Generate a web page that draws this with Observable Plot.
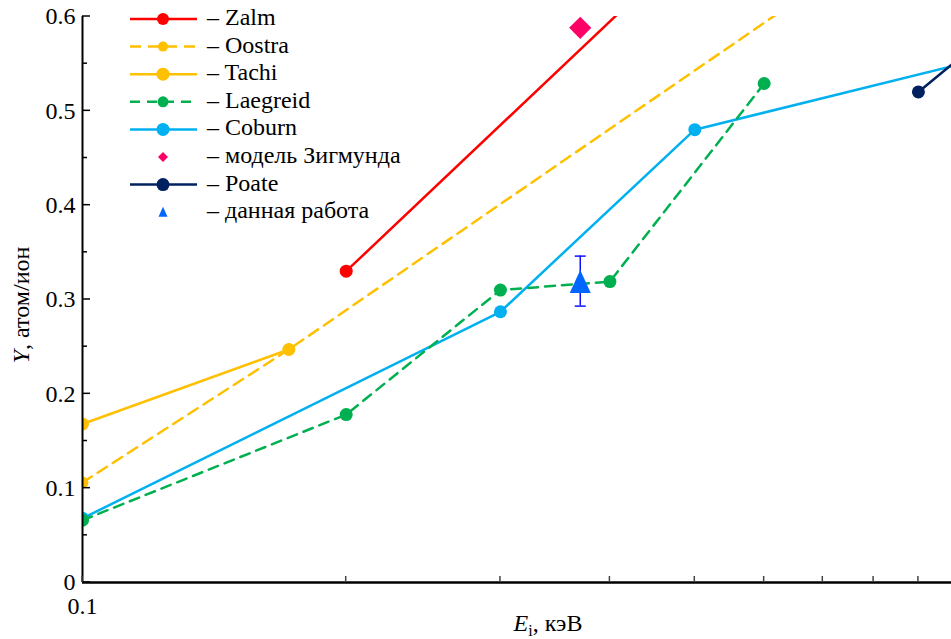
<!DOCTYPE html>
<html><head><meta charset="utf-8">
<script src="https://cdn.jsdelivr.net/npm/d3@7"></script>
<script src="https://cdn.jsdelivr.net/npm/@observablehq/plot@0.6"></script>
<style>
html,body{margin:0;padding:0;background:#fff;}
#chart{width:951px;height:639px;overflow:hidden;position:relative;}
</style></head><body><div id="chart"></div>
<script>
// ---- data (E in keV, Y in atoms/ion) ----
const zalmE = [0.2, 0.5];            const zalmY = [0.33, 0.68];
const oostraE = [0.1, 0.172, 0.7];   const oostraY = [0.106, 0.247, 0.636];
const tachiE = [0.1, 0.172];         const tachiY = [0.168, 0.247];
const laegreidE = [0.1, 0.2, 0.3, 0.4, 0.6]; const laegreidY = [0.066, 0.178, 0.31, 0.319, 0.529];
const coburnE = [0.1, 0.3, 0.5, 1.0]; const coburnY = [0.068, 0.287, 0.48, 0.549];
const poateE = [0.9, 1.0];           const poateY = [0.52, 0.555];
const zigmundE = [0.37];             const zigmundY = [0.588];
const workE = [0.37]; const workY = [0.319]; const workLo = [0.293]; const workHi = [0.346];

const yTicks = [0, 0.1, 0.2, 0.3, 0.4, 0.5, 0.6];
const yMinor = [0.05, 0.15, 0.25, 0.35, 0.45, 0.55];
const xTicks = [0.1, 1];
const xMinor = [0.2, 0.3, 0.4, 0.5, 0.6, 0.7, 0.8, 0.9];

const legendLabels = ["Zalm", "Oostra", "Tachi", "Laegreid", "Coburn", "модель Зигмунда", "Poate", "данная работа"];

const FONT = "Liberation Serif";
const C = {zalm:"#ff0000", orange:"#ffc000", green:"#00b050", blue:"#00b0f0", navy:"#002060", pink:"#ff0066", work:"#0066ff", err:"#1010ff"};

const pts = (E, Y) => E.map((e, i) => ({E: e, Y: Y[i]}));
const zalm = pts(zalmE, zalmY), oostra = pts(oostraE, oostraY), tachi = pts(tachiE, tachiY),
      laegreid = pts(laegreidE, laegreidY), coburn = pts(coburnE, coburnY), poate = pts(poateE, poateY),
      zigmund = pts(zigmundE, zigmundY);
const work = workE.map((e, i) => ({E: e, Y: workY[i], lo: workLo[i], hi: workHi[i]}));

const triSym = (w, h) => ({draw(ctx){ ctx.moveTo(0, -h/2); ctx.lineTo(w/2, h/2); ctx.lineTo(-w/2, h/2); ctx.closePath(); }});
const capSym = {draw(ctx){ ctx.moveTo(-5.5, 0); ctx.lineTo(5.5, 0); }};

const lw = 2.5;
const line = (d, stroke, dash) => Plot.line(d, {x:"E", y:"Y", stroke, strokeWidth: lw, strokeDasharray: dash, clip: true});
const dots = (d, fill, r) => Plot.dot(d, {x:"E", y:"Y", fill, r, clip: true});

const chart = Plot.plot({
  width: 951, height: 639,
  marginLeft: 82, marginRight: -7, marginTop: 16, marginBottom: 57,
  x: {type: "log", domain: [0.1, 1]},
  y: {domain: [0, 0.6]},
  marks: [
    Plot.axisX(xTicks, {tickSize: 0, tickPadding: 14, tickFormat: d => String(d), label: null}),
    Plot.axisY(yTicks, {tickSize: 0, tickPadding: 7, tickFormat: d => d === 0 ? "0" : d.toFixed(1), label: null}),
    line(oostra, C.orange, "11,7"), dots(oostra, C.orange, 6),
    line(tachi, C.orange), dots(tachi, C.orange, 6.5),
    line(coburn, C.blue), dots(coburn, C.blue, 6.5),
    line(laegreid, C.green, "10,7"), dots(laegreid, C.green, 6.5),
    line(zalm, C.zalm), dots(zalm, C.zalm, 6.5),
    line(poate, C.navy), dots(poate, C.navy, 6.5),
    Plot.dot(zigmund, {x:"E", y:"Y", symbol:"diamond2", r: 10, fill: C.pink, stroke: "none"}),
    Plot.ruleX(work, {x:"E", y1:"lo", y2:"hi", stroke: C.err, strokeWidth: 1.5}),
    Plot.dot(work, {x:"E", y:"lo", symbol: capSym, stroke: C.err, strokeWidth: 1.5, fill: "none"}),
    Plot.dot(work, {x:"E", y:"hi", symbol: capSym, stroke: C.err, strokeWidth: 1.5, fill: "none"}),
    Plot.dot(work, {x:"E", y:"Y", symbol: triSym(21, 23), fill: C.work, stroke: "none"}),
    Plot.ruleX([0.1], {stroke: "black", strokeWidth: 2}),
    Plot.ruleY([0], {stroke: "black", strokeWidth: 2.5})
  ]
});
document.getElementById("chart").appendChild(chart);

const svg = d3.select(chart);
const sx = chart.scale("x"), sy = chart.scale("y");
const x0 = sx.apply(0.1), y0 = sy.apply(0);
const g = svg.append("g");
yTicks.forEach(v => g.append("line").attr("x1", x0).attr("x2", x0 + 8).attr("y1", sy.apply(v)).attr("y2", sy.apply(v)).attr("stroke", "black").attr("stroke-width", 1.5));
yMinor.forEach(v => g.append("line").attr("x1", x0).attr("x2", x0 + 5).attr("y1", sy.apply(v)).attr("y2", sy.apply(v)).attr("stroke", "black").attr("stroke-width", 1.5));
xMinor.concat(xTicks).forEach(v => g.append("line").attr("x1", sx.apply(v)).attr("x2", sx.apply(v)).attr("y1", y0).attr("y2", y0 - 6).attr("stroke", "#444").attr("stroke-width", 1.5));

const xt = svg.append("text").attr("x", 548).attr("y", 631).attr("text-anchor", "middle").attr("font-size", 24);
xt.append("tspan").attr("font-style", "italic").text("E");
xt.append("tspan").attr("font-size", 16).attr("dy", 5).text("i");
xt.append("tspan").attr("dy", -5).text(", кэВ");
const yt = svg.append("text").attr("transform", "translate(29,305) rotate(-90)").attr("text-anchor", "middle").attr("font-size", 24);
yt.append("tspan").attr("font-style", "italic").text("Y");
yt.append("tspan").text(", атом/ион");

const legendStyle = [
  {stroke: C.zalm, marker: "circle", fill: C.zalm, r: 6},
  {stroke: C.orange, dash: "11,7", marker: "circle", fill: C.orange, r: 5},
  {stroke: C.orange, marker: "circle", fill: C.orange, r: 6.5},
  {stroke: C.green, dash: "10,7", marker: "circle", fill: C.green, r: 5.5},
  {stroke: C.blue, marker: "circle", fill: C.blue, r: 6.5},
  {marker: "diamond", fill: C.pink, r: 5},
  {stroke: C.navy, marker: "circle", fill: C.navy, r: 6.5},
  {marker: "triangle", fill: C.work, r: 9}
];
const lg = svg.append("g");
legendLabels.forEach((lab, i) => {
  const y = 19 + i * 27.6, s = legendStyle[i];
  if (s.stroke) lg.append("line").attr("x1", 130).attr("x2", 197).attr("y1", y).attr("y2", y)
      .attr("stroke", s.stroke).attr("stroke-width", lw).attr("stroke-dasharray", s.dash || null);
  if (s.marker === "circle") lg.append("circle").attr("cx", 163).attr("cy", y).attr("r", s.r).attr("fill", s.fill);
  else if (s.marker === "diamond") lg.append("path").attr("d", `M163,${y - s.r}L${163 + s.r},${y}L163,${y + s.r}L${163 - s.r},${y}Z`).attr("fill", s.fill);
  else lg.append("path").attr("d", `M163,${y - s.r / 2 - 1}L${163 + s.r / 2},${y + s.r / 2}L${163 - s.r / 2},${y + s.r / 2}Z`).attr("fill", s.fill);
  lg.append("text").attr("x", 207).attr("y", y + 6).attr("text-anchor", "start").attr("font-size", 24).text("– " + lab);
});

// serif font for every text element, set inline
svg.selectAll("text").style("font-family", FONT).attr("fill", "black");
svg.selectAll("g[aria-label$='tick label']").attr("font-size", 24);
</script></body></html>
